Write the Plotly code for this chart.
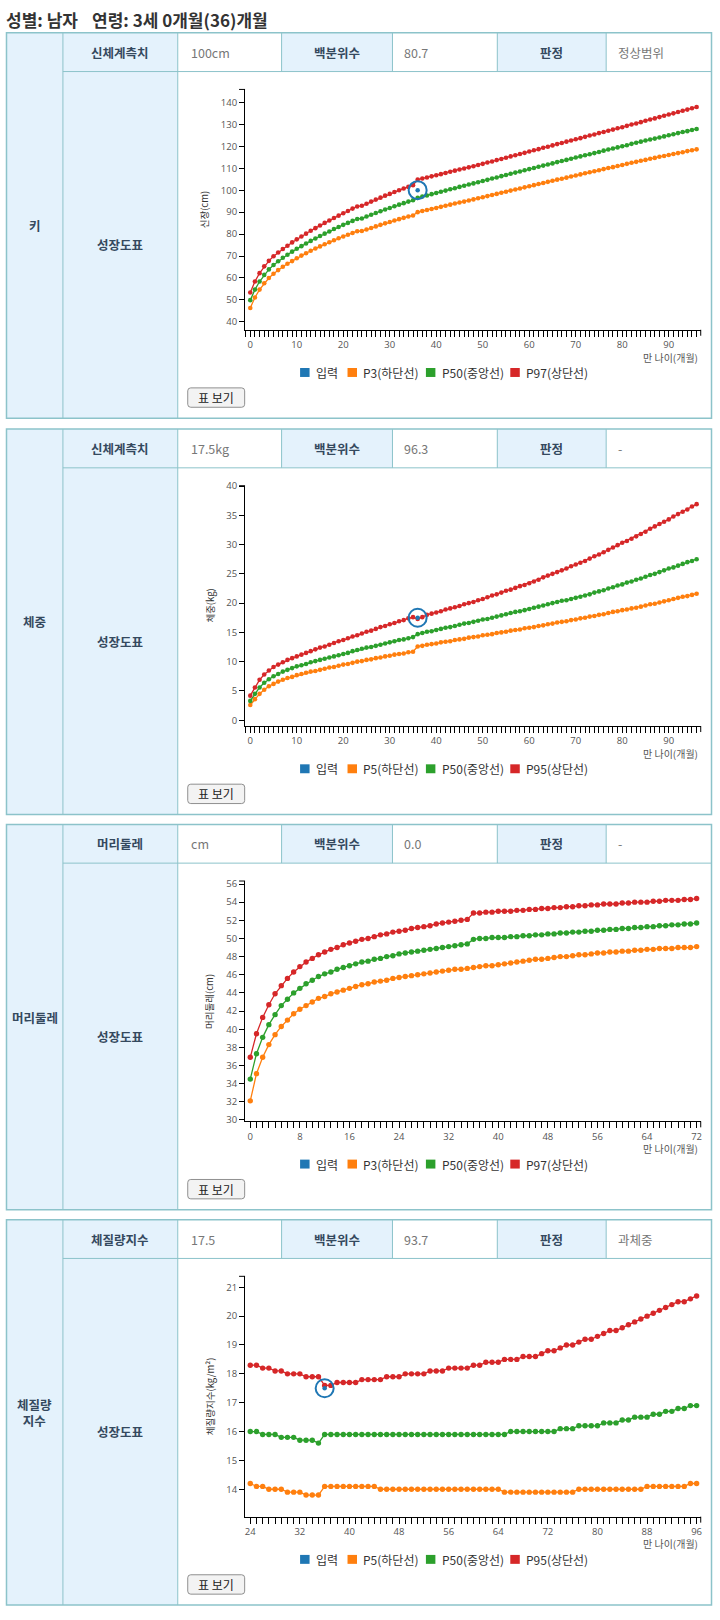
import plotly.graph_objects as go

# ---------------- data ----------------
months_0_96 = list(range(0, 97))
months_0_72 = list(range(0, 73))
months_24_96 = list(range(24, 97))
input_month = [36]

height_p3 = [46.3, 51.1, 54.7, 57.6, 60.0, 61.9, 63.6, 65.1, 66.5, 67.7,
             69.0, 70.2, 71.3, 72.4, 73.4, 74.4, 75.4, 76.3, 77.2, 78.1,
             78.9, 79.7, 80.5, 81.3, 81.4, 82.1, 82.8, 83.5, 84.2, 84.9,
             85.5, 86.2, 86.8, 87.4, 88.0, 88.5,
             90.0, 90.5, 91.0, 91.4, 91.9, 92.4, 92.9, 93.4, 93.9, 94.4, 94.8, 95.3, 95.8,
             96.3, 96.8, 97.3, 97.8, 98.3, 98.8, 99.3, 99.8, 100.3, 100.8, 101.3, 101.8,
             102.3, 102.8, 103.3, 103.8, 104.3, 104.8, 105.2, 105.7, 106.2, 106.7, 107.2, 107.7,
             108.2, 108.6, 109.1, 109.6, 110.1, 110.5, 111.0, 111.5, 112.0, 112.5, 112.9, 113.4,
             113.8, 114.3, 114.7, 115.2, 115.6, 116.0, 116.5, 116.9, 117.3, 117.8, 118.2, 118.6]
height_p50 = [49.9, 54.7, 58.4, 61.4, 63.9, 65.9, 67.6, 69.2, 70.6, 72.0,
              73.3, 74.5, 75.7, 76.9, 78.0, 79.1, 80.2, 81.2, 82.3, 83.2,
              84.2, 85.1, 86.0, 86.9, 87.1, 88.0, 88.8, 89.6, 90.4, 91.2,
              91.9, 92.7, 93.4, 94.1, 94.8, 95.4,
              96.5, 97.1, 97.6, 98.2, 98.7, 99.3, 99.8, 100.4, 100.9, 101.5, 102.0, 102.6, 103.1,
              103.6, 104.2, 104.7, 105.3, 105.8, 106.4, 106.9, 107.5, 108.0, 108.5, 109.1, 109.6,
              110.1, 110.7, 111.2, 111.7, 112.2, 112.8, 113.3, 113.8, 114.3, 114.9, 115.4, 115.9,
              116.4, 116.9, 117.4, 118.0, 118.5, 119.0, 119.5, 120.0, 120.5, 121.1, 121.6, 122.1,
              122.6, 123.1, 123.5, 124.0, 124.5, 125.0, 125.5, 126.0, 126.5, 126.9, 127.4, 127.9]
height_p97 = [53.4, 58.4, 62.2, 65.3, 67.8, 69.9, 71.6, 73.2, 74.7, 76.2,
              77.6, 78.9, 80.2, 81.5, 82.7, 83.9, 85.1, 86.2, 87.3, 88.4,
              89.5, 90.5, 91.6, 92.6, 92.9, 93.8, 94.8, 95.7, 96.6, 97.5,
              98.3, 99.2, 100.0, 100.8, 101.5, 102.3,
              104.8, 105.3, 105.8, 106.3, 106.8, 107.3, 107.8, 108.4, 108.9, 109.4, 109.9, 110.4, 110.9,
              111.5, 112.0, 112.6, 113.1, 113.7, 114.2, 114.8, 115.4, 115.9, 116.5, 117.0, 117.6,
              118.2, 118.7, 119.3, 119.8, 120.4, 121.0, 121.5, 122.1, 122.6, 123.2, 123.7, 124.3,
              124.9, 125.4, 126.0, 126.5, 127.1, 127.6, 128.2, 128.7, 129.3, 129.9, 130.4, 131.0,
              131.6, 132.2, 132.7, 133.3, 133.9, 134.5, 135.0, 135.6, 136.2, 136.7, 137.3, 137.9]
height_input = [100]

weight_p5 = [2.6, 3.6, 4.5, 5.2, 5.8, 6.2, 6.6, 6.9, 7.2, 7.4,
             7.7, 7.9, 8.1, 8.3, 8.4, 8.6, 8.8, 9.0, 9.1, 9.3,
             9.5, 9.6, 9.8, 10.0, 10.1, 10.3, 10.4, 10.6, 10.7, 10.9,
             11.0, 11.2, 11.3, 11.4, 11.6, 11.7,
             12.6, 12.7, 12.9, 13.0, 13.1, 13.3, 13.4, 13.5, 13.7, 13.8, 13.9, 14.1, 14.2,
             14.3, 14.5, 14.6, 14.7, 14.9, 15.0, 15.1, 15.3, 15.4, 15.5, 15.7, 15.8,
             15.9, 16.1, 16.2, 16.4, 16.5, 16.7, 16.8, 16.9, 17.1, 17.2, 17.4, 17.5,
             17.7, 17.8, 18.0, 18.1, 18.3, 18.5, 18.6, 18.8, 18.9, 19.1, 19.2, 19.4,
             19.6, 19.8, 19.9, 20.1, 20.3, 20.5, 20.7, 20.9, 21.1, 21.2, 21.4, 21.6]
weight_p50 = [3.3, 4.5, 5.6, 6.4, 7.0, 7.5, 7.9, 8.3, 8.6, 8.9,
              9.2, 9.4, 9.6, 9.9, 10.1, 10.3, 10.5, 10.7, 10.9, 11.1,
              11.3, 11.5, 11.8, 12.0, 12.2, 12.4, 12.5, 12.7, 12.9, 13.1,
              13.3, 13.5, 13.7, 13.8, 14.0, 14.2,
              14.7, 14.9, 15.1, 15.2, 15.4, 15.6, 15.8, 15.9, 16.1, 16.3, 16.5, 16.6, 16.8,
              17.0, 17.2, 17.3, 17.5, 17.7, 17.9, 18.1, 18.3, 18.5, 18.6, 18.8, 19.0,
              19.2, 19.4, 19.6, 19.8, 20.0, 20.2, 20.4, 20.5, 20.7, 20.9, 21.1, 21.3,
              21.5, 21.8, 22.0, 22.2, 22.5, 22.7, 23.0, 23.2, 23.5, 23.7, 24.0, 24.2,
              24.5, 24.8, 25.0, 25.3, 25.6, 25.9, 26.1, 26.4, 26.7, 27.0, 27.2, 27.5]
weight_p95 = [4.2, 5.6, 6.9, 7.8, 8.5, 9.1, 9.5, 9.9, 10.3, 10.6,
              10.9, 11.2, 11.5, 11.8, 12.1, 12.4, 12.6, 12.9, 13.2, 13.5,
              13.7, 14.0, 14.3, 14.5, 14.8, 15.1, 15.3, 15.6, 15.9, 16.1,
              16.4, 16.6, 16.9, 17.1, 17.4, 17.6,
              17.3, 17.6, 18.0, 18.2, 18.4, 18.6, 18.9, 19.1, 19.3, 19.5, 19.8, 20.0, 20.2,
              20.5, 20.7, 21.0, 21.3, 21.5, 21.8, 22.1, 22.3, 22.6, 22.9, 23.1, 23.4,
              23.7, 24.0, 24.4, 24.7, 25.0, 25.3, 25.6, 25.9, 26.3, 26.6, 26.9, 27.2,
              27.6, 28.0, 28.3, 28.7, 29.1, 29.5, 29.9, 30.3, 30.6, 31.0, 31.4, 31.8,
              32.2, 32.7, 33.1, 33.5, 33.9, 34.3, 34.8, 35.2, 35.6, 36.0, 36.5, 36.9]
weight_input = [17.5]

head_p3 = [32.1, 35.1, 36.9, 38.3, 39.4, 40.3, 41.0, 41.7, 42.2, 42.6,
           43.0, 43.4, 43.6, 43.9, 44.1, 44.3, 44.5, 44.7, 44.9, 45.0,
           45.2, 45.3, 45.4, 45.6, 45.7, 45.8, 45.9, 46.0, 46.1, 46.2,
           46.3, 46.4, 46.5, 46.6, 46.6, 46.7,
           46.8, 46.9, 47.0, 47.0, 47.1, 47.2, 47.3, 47.4, 47.5, 47.6,
           47.7, 47.7, 47.8, 47.9, 48.0, 48.0, 48.1, 48.2, 48.2, 48.3,
           48.4, 48.4, 48.5, 48.5, 48.6, 48.6, 48.7, 48.7, 48.8, 48.8,
           48.9, 48.9, 48.9, 49.0, 49.0, 49.0, 49.1]
head_p50 = [34.5, 37.3, 39.1, 40.5, 41.6, 42.6, 43.3, 44.0, 44.5, 45.0,
            45.4, 45.8, 46.1, 46.3, 46.6, 46.8, 47.0, 47.2, 47.4, 47.5,
            47.7, 47.8, 48.0, 48.1, 48.3, 48.4, 48.5, 48.6, 48.7, 48.8,
            48.9, 49.0, 49.1, 49.2, 49.3, 49.4,
            49.9, 50.0, 50.0, 50.1, 50.1, 50.1, 50.2, 50.2, 50.3, 50.3,
            50.4, 50.4, 50.5, 50.5, 50.6, 50.6, 50.7, 50.7, 50.8, 50.8,
            50.9, 50.9, 51.0, 51.0, 51.1, 51.1, 51.2, 51.2, 51.3, 51.3,
            51.4, 51.4, 51.5, 51.5, 51.6, 51.6, 51.7]
head_p97 = [36.9, 39.5, 41.3, 42.7, 43.9, 44.8, 45.6, 46.3, 46.9, 47.4,
            47.8, 48.2, 48.5, 48.8, 49.0, 49.3, 49.5, 49.7, 49.9, 50.0,
            50.2, 50.4, 50.5, 50.7, 50.8, 50.9, 51.1, 51.2, 51.3, 51.4,
            51.6, 51.7, 51.8, 51.9, 52.0, 52.1,
            52.8, 52.8, 52.9, 52.9, 53.0, 53.0, 53.0, 53.1, 53.1, 53.2,
            53.2, 53.3, 53.3, 53.4, 53.4, 53.5, 53.5, 53.6, 53.6, 53.7,
            53.7, 53.8, 53.8, 53.8, 53.9, 53.9, 54.0, 54.0, 54.0, 54.1,
            54.1, 54.2, 54.2, 54.2, 54.3, 54.3, 54.4]

bmi_p5 = [14.2, 14.1, 14.1, 14.0, 14.0, 14.0, 13.9, 13.9, 13.9, 13.8, 13.8, 13.8,
          14.1, 14.1, 14.1, 14.1, 14.1, 14.1, 14.1, 14.1, 14.1,
          14.0, 14.0, 14.0, 14.0, 14.0, 14.0, 14.0, 14.0, 14.0, 14.0,
          14.0, 14.0, 14.0, 14.0, 14.0, 14.0, 14.0, 14.0, 14.0, 14.0,
          13.9, 13.9, 13.9, 13.9, 13.9, 13.9, 13.9, 13.9, 13.9, 13.9, 13.9, 13.9,
          14.0, 14.0, 14.0, 14.0, 14.0, 14.0, 14.0, 14.0, 14.0, 14.0, 14.0,
          14.1, 14.1, 14.1, 14.1, 14.1, 14.1, 14.1,
          14.2, 14.2]
bmi_p50 = [16.0, 16.0, 15.9, 15.9, 15.9, 15.8, 15.8, 15.8, 15.7, 15.7, 15.7, 15.6,
           15.9, 15.9, 15.9, 15.9, 15.9, 15.9, 15.9, 15.9, 15.9, 15.9,
           15.9, 15.9, 15.9, 15.9, 15.9, 15.9, 15.9, 15.9, 15.9, 15.9,
           15.9, 15.9, 15.9, 15.9, 15.9, 15.9, 15.9, 15.9, 15.9, 15.9,
           16.0, 16.0, 16.0, 16.0, 16.0, 16.0, 16.0, 16.0,
           16.1, 16.1, 16.1,
           16.2, 16.2, 16.2, 16.2,
           16.3, 16.3, 16.3,
           16.4, 16.4,
           16.5, 16.5, 16.5,
           16.6, 16.6,
           16.7, 16.7,
           16.8, 16.8,
           16.9, 16.9]
bmi_p95 = [18.3, 18.3, 18.2, 18.2, 18.1, 18.1, 18.0, 18.0, 18.0, 17.9, 17.9, 17.9,
           17.6, 17.6, 17.7, 17.7, 17.7, 17.7, 17.8, 17.8, 17.8, 17.8,
           17.9, 17.9, 17.9, 18.0, 18.0, 18.0, 18.0, 18.1, 18.1, 18.1,
           18.2, 18.2, 18.2, 18.2, 18.3, 18.3, 18.4, 18.4, 18.4, 18.5,
           18.5, 18.5, 18.6, 18.6, 18.6, 18.7, 18.8, 18.8, 18.9, 19.0,
           19.0, 19.1, 19.2, 19.2, 19.3, 19.4, 19.5, 19.5, 19.6, 19.7,
           19.8, 19.9, 20.0, 20.1, 20.2, 20.3, 20.4, 20.5, 20.5, 20.6,
           20.7]
bmi_input = [17.5]

# table texts
row_titles = ["키", "체중", "머리둘레", "체질량<br>지수"]
measure_labels = ["신체계측치", "신체계측치", "머리둘레", "체질량지수"]
measure_values = ["100cm", "17.5kg", "cm", "17.5"]
percentile_values = ["80.7", "96.3", "0.0", "93.7"]
judgement_values = ["정상범위", "-", "-", "과체중"]
y_titles = ["신장(cm)", "체중(kg)", "머리둘레(cm)", "체질량지수(kg/m²)"]
legend_labels = [["입력", "P3(하단선)", "P50(중앙선)", "P97(상단선)"],
                 ["입력", "P5(하단선)", "P50(중앙선)", "P95(상단선)"],
                 ["입력", "P3(하단선)", "P50(중앙선)", "P97(상단선)"],
                 ["입력", "P5(하단선)", "P50(중앙선)", "P95(상단선)"]]

charts = [
    dict(x=months_0_96, series=[height_p3, height_p50, height_p97], inp=height_input),
    dict(x=months_0_96, series=[weight_p5, weight_p50, weight_p95], inp=weight_input),
    dict(x=months_0_72, series=[head_p3, head_p50, head_p97], inp=None),
    dict(x=months_24_96, series=[bmi_p5, bmi_p50, bmi_p95], inp=bmi_input),
]
for c in charts:
    for s in c["series"]:
        assert len(s) == len(c["x"]), (len(s), len(c["x"]))

# ---------------- styling / geometry ----------------
W, H = 720, 1620
def X(px): return px / W
def Y(py): return 1 - py / H

BLUE, ORANGE, GREEN, RED = "#1f77b4", "#ff7f0e", "#2ca02c", "#d62728"
LABEL_BG = "#e4f2fc"
BORDER = "#8cc3ca"
KFONT = "Noto Sans CJK KR, Noto Sans, sans-serif"
NFONT = "Open Sans, Noto Sans CJK KR, sans-serif"

PANEL_TOPS = [27, 426, 824, 1222]
PANEL_H = 388
HEAD_H = 39
L, C1, C2, C3, C4, C5, C6, R = 6.5, 63, 178, 282, 393, 498, 607, 712.5
AX_L, AX_R = 245.4, 701.7
PLOT_TOP_OFF, PLOT_BOT_OFF = 57, 299

axis_cfg = [
    dict(xr=[-1.12, 96.88], xd=10, yr=[36.4, 145.9], yd=10, msize=4.6, ytx=204),
    dict(xr=[-1.12, 96.88], xd=10, yr=[-1.0, 40.05], yd=5, msize=4.6, ytx=210),
    dict(xr=[-0.84, 72.66], xd=8, yr=[29.84, 56.33], yd=2, msize=5.4, ytx=209),
    dict(xr=[23.16, 96.66], xd=8, yr=[13.05, 21.38], yd=1, msize=5.4, ytx=211),
]

shapes, annotations = [], []

def rect(x0, y0, x1, y1, fill="rgba(0,0,0,0)", line=None, width=1, layer="below"):
    shapes.append(dict(type="rect", xref="paper", yref="paper",
                       x0=X(x0), x1=X(x1), y0=Y(y1), y1=Y(y0),
                       fillcolor=fill,
                       line=dict(color=line or "rgba(0,0,0,0)", width=width if line else 0),
                       layer=layer))

def seg(x0, y0, x1, y1, color=BORDER, width=1, layer="below"):
    shapes.append(dict(type="line", xref="paper", yref="paper",
                       x0=X(x0), x1=X(x1), y0=Y(y0), y1=Y(y1),
                       line=dict(color=color, width=width), layer=layer))

def text(x, y, s, size=12, color="#333", bold=False, xanchor="center", family=KFONT, angle=0):
    if bold:
        s = "<b>" + s + "</b>"
    annotations.append(dict(xref="paper", yref="paper", x=X(x), y=Y(y), text=s,
                            showarrow=False, xanchor=xanchor, yanchor="middle",
                            textangle=angle, borderpad=0,
                            font=dict(size=size, color=color, family=family)))

# title
text(5, 14, "성별: 남자", size=17, color="#333", bold=True, xanchor="left")
text(91, 14, "연령: 3세 0개월(36)개월", size=17, color="#333", bold=True, xanchor="left")

fig = go.Figure()
layout_axes = {}

for i, t in enumerate(PANEL_TOPS):
    b = t + PANEL_H
    hb = t + HEAD_H
    # backgrounds
    rect(L, t, C1, b, LABEL_BG)
    rect(C1, t, C2, b, LABEL_BG)
    rect(C3, t, C4, hb, LABEL_BG)
    rect(C5, t, C6, hb, LABEL_BG)
    # grid lines
    seg(C1, t, C1, b)
    seg(C2, t, C2, b)
    for cx in (C3, C4, C5, C6):
        seg(cx, t, cx, hb)
    seg(C1, hb, R, hb)
    rect(L, t, R, b, line=BORDER, width=1.5)

    # texts
    text((L + C1) / 2, (t + b) / 2, row_titles[i], size=12.5, color="#34495e", bold=True)
    text((C1 + C2) / 2, (t + hb) / 2, measure_labels[i], size=12.5, color="#34495e", bold=True)
    text(C2 + 12, (t + hb) / 2, measure_values[i], size=12.5, color="#777", xanchor="left")
    text((C3 + C4) / 2, (t + hb) / 2, "백분위수", size=12.5, color="#34495e", bold=True)
    text(C4 + 11, (t + hb) / 2, percentile_values[i], size=12.5, color="#777", xanchor="left")
    text((C5 + C6) / 2, (t + hb) / 2, "판정", size=12.5, color="#34495e", bold=True)
    text(C6 + 11, (t + hb) / 2, judgement_values[i], size=12.5, color="#777", xanchor="left")
    text((C1 + C2) / 2, (hb + b) / 2, "성장도표", size=12.5, color="#34495e", bold=True)

    # plot area
    ptop, pbot = t + PLOT_TOP_OFF, t + PLOT_BOT_OFF
    cfg = axis_cfg[i]
    sfx = "" if i == 0 else str(i + 1)
    layout_axes["xaxis" + sfx] = dict(
        domain=[X(AX_L), X(AX_R)], anchor="y" + sfx, range=cfg["xr"],
        showline=True, linecolor="#000", linewidth=1, mirror=False,
        ticks="outside", ticklen=6, tickwidth=1, tickcolor="#000",
        tick0=0, dtick=cfg["xd"], showgrid=False, zeroline=False,
        tickfont=dict(size=9.5, color="#555", family=NFONT),
        minor=dict(tick0=0, dtick=1, ticks="outside", ticklen=6, tickwidth=1,
                   tickcolor="#000", showgrid=False),
        fixedrange=True)
    layout_axes["yaxis" + sfx] = dict(
        domain=[Y(pbot), Y(ptop)], anchor="x" + sfx, range=cfg["yr"],
        showline=True, linecolor="#000", linewidth=1,
        ticks="outside", ticklen=5, tickwidth=1, tickcolor="#000",
        tick0=0, dtick=cfg["yd"], showgrid=False, zeroline=False,
        tickfont=dict(size=9.5, color="#555", family=NFONT),
        fixedrange=True)
    # d3-style outer ticks at the ends of the axis domain
    seg(AX_L - 6, ptop, AX_L, ptop, color="#000", layer="above")
    seg(AX_R, pbot, AX_R, pbot + 6, color="#000", layer="above")

    # traces
    c = charts[i]
    xa, ya = "x" + sfx, "y" + sfx
    for s, col in zip(c["series"], (ORANGE, GREEN, RED)):
        fig.add_trace(go.Scatter(x=c["x"], y=s, mode="lines+markers",
                                 line=dict(color=col, width=1.3),
                                 marker=dict(color=col, size=cfg["msize"]),
                                 xaxis=xa, yaxis=ya, showlegend=False, hoverinfo="skip",
                                 cliponaxis=False))
    if c["inp"] is not None:
        fig.add_trace(go.Scatter(x=input_month, y=c["inp"], mode="markers",
                                 marker=dict(color=BLUE, size=4.5),
                                 xaxis=xa, yaxis=ya, showlegend=False, hoverinfo="skip"))
        fig.add_trace(go.Scatter(x=input_month, y=c["inp"], mode="markers",
                                 marker=dict(symbol="circle-open", size=18, color=BLUE,
                                             line=dict(width=2, color=BLUE)),
                                 xaxis=xa, yaxis=ya, showlegend=False, hoverinfo="skip"))

    # axis titles
    text(cfg["ytx"], (ptop + pbot) / 2, y_titles[i], size=9.5, color="#333", angle=-90)
    text(700, t + 326.5, "만 나이(개월)", size=10, color="#555", xanchor="right")

    # legend
    ly = t + 342
    sq_left = [300.5, 348, 426.5, 511]
    for lab, col, sx in zip(legend_labels[i], (BLUE, ORANGE, GREEN, RED), sq_left):
        rect(sx, ly - 4.5, sx + 9.5, ly + 4.5, fill=col, layer="above")
        text(sx + 15, ly, lab, size=12, color="#333", xanchor="left")

    # button
    bx0, bx1, by0, by1 = 188, 245, t + 357.5, t + 377
    r = 3
    path = (f"M {X(bx0 + r)},{Y(by0)} L {X(bx1 - r)},{Y(by0)} Q {X(bx1)},{Y(by0)} {X(bx1)},{Y(by0 + r)} "
            f"L {X(bx1)},{Y(by1 - r)} Q {X(bx1)},{Y(by1)} {X(bx1 - r)},{Y(by1)} "
            f"L {X(bx0 + r)},{Y(by1)} Q {X(bx0)},{Y(by1)} {X(bx0)},{Y(by1 - r)} "
            f"L {X(bx0)},{Y(by0 + r)} Q {X(bx0)},{Y(by0)} {X(bx0 + r)},{Y(by0)} Z")
    shapes.append(dict(type="path", xref="paper", yref="paper", path=path,
                       fillcolor="#f3f3f3", line=dict(color="#8f8f8f", width=1), layer="below"))
    text((bx0 + bx1) / 2, (by0 + by1) / 2, "표 보기", size=12, color="#222")

fig.update_layout(
    width=W, height=H, autosize=False,
    margin=dict(l=0, r=0, t=0, b=0),
    paper_bgcolor="white", plot_bgcolor="rgba(0,0,0,0)",
    showlegend=False,
    font=dict(family=KFONT),
    shapes=shapes, annotations=annotations,
    **layout_axes,
)

fig.write_html("out.html", config={"displayModeBar": False, "staticPlot": True},
               post_script="document.body.style.margin='0';document.body.style.overflow='hidden';")
